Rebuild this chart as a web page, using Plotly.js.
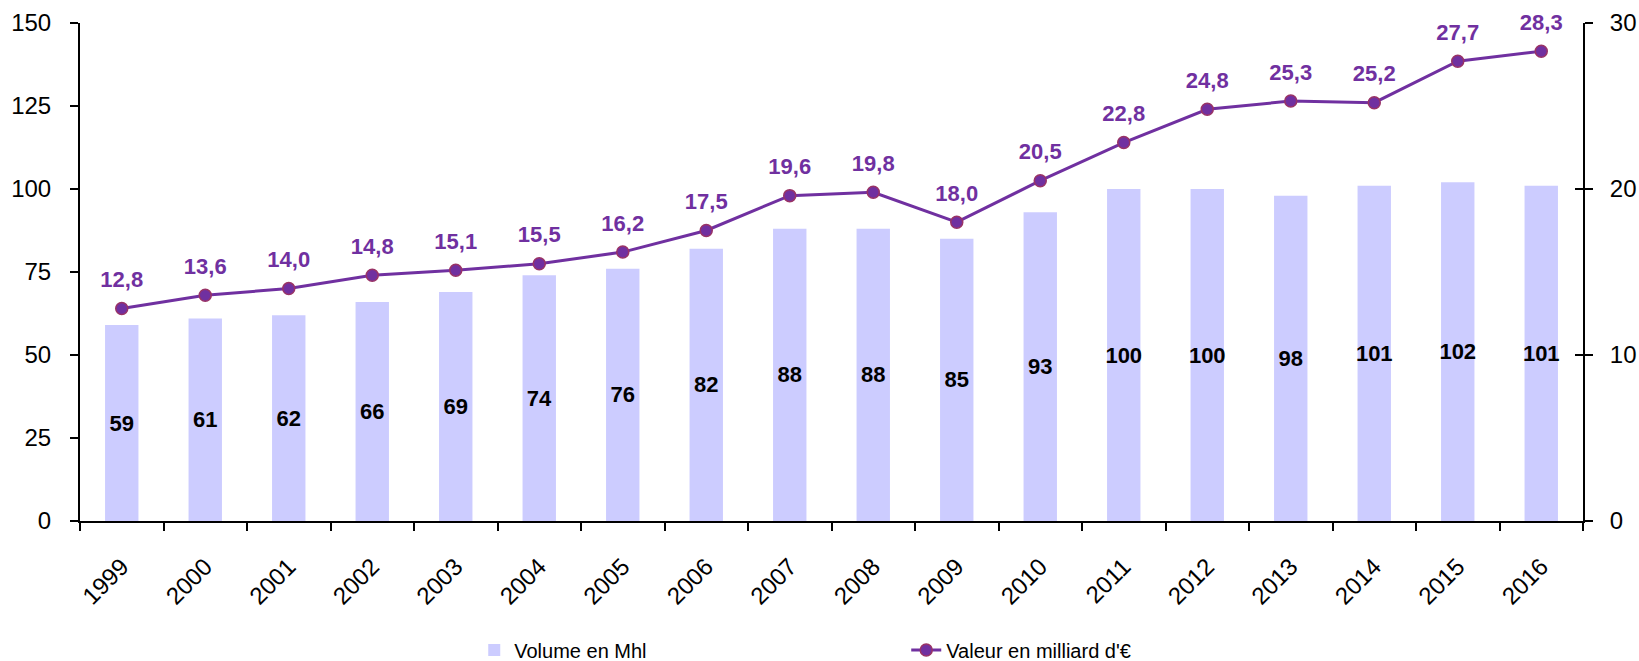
<!DOCTYPE html>
<html>
<head>
<meta charset="utf-8">
<script src="https://cdn.plot.ly/plotly-3.0.1.min.js"></script>
<style>html,body{margin:0;padding:0;background:#fff;}#chart{width:1639px;height:661px;}</style>
</head>
<body>
<div id="chart"></div>
<script>
const years = ['1999','2000','2001','2002','2003','2004','2005','2006','2007','2008','2009','2010','2011','2012','2013','2014','2015','2016'];
const volumeMhl = [59,61,62,66,69,74,76,82,88,88,85,93,100,100,98,101,102,101];
const valeurMdEur = [12.8,13.6,14.0,14.8,15.1,15.5,16.2,17.5,19.6,19.8,18.0,20.5,22.8,24.8,25.3,25.2,27.7,28.3];
const leftTicks = [0,25,50,75,100,125,150];
const rightTicks = [0,10,20,30];

const FONT = 'Liberation Sans, Arial, sans-serif';
const PURPLE = '#7030A0';

const valeurText = valeurMdEur.map(v => v.toFixed(1).replace('.', ','));

const traces = [
  {
    type: 'bar', name: 'Volume en Mhl', x: years, y: volumeMhl,
    marker: {color: '#CCCCFF'}, width: 0.4,
    text: volumeMhl.map(String), textposition: 'inside', insidetextanchor: 'middle',
    textangle: 0, constraintext: 'none',
    insidetextfont: {family: FONT, size: 22, color: '#000', weight: 'bold'},
    hoverinfo: 'skip'
  },
  {
    type: 'scatter', mode: 'lines+markers', name: "Valeur en milliard d'€",
    x: years, y: valeurMdEur, yaxis: 'y2',
    line: {color: PURPLE, width: 3},
    marker: {color: PURPLE, size: 12, line: {color: '#993366', width: 1.5}},
    cliponaxis: false, hoverinfo: 'skip'
  },
  {
    type: 'scatter', mode: 'markers+text', showlegend: false,
    x: years, y: valeurMdEur, yaxis: 'y2',
    marker: {color: 'rgba(0,0,0,0)', size: 24},
    text: valeurText, textposition: 'top center',
    textfont: {family: FONT, size: 22, color: PURPLE, weight: 'bold'},
    cliponaxis: false, hoverinfo: 'skip'
  },
  {
    type: 'scatter', mode: 'markers', showlegend: false, x: [], y: [], yaxis: 'y3', hoverinfo: 'skip'
  }
];

const layout = {
  width: 1639, height: 661,
  margin: {l: 80, r: 56, t: 23, b: 140, autoexpand: false},
  paper_bgcolor: '#fff', plot_bgcolor: '#fff',
  font: {family: FONT, size: 24, color: '#000'},
  showlegend: true,
  xaxis: {
    type: 'category', range: [-0.5, 17.5], autorange: false,
    tickangle: -45, tickson: 'boundaries',
    ticks: 'outside', ticklen: 8, tickwidth: 2, tickcolor: '#000',
    showline: true, linecolor: '#000', linewidth: 2,
    showgrid: false, zeroline: false, ticklabelstandoff: 20,
    tickfont: {family: FONT, size: 24, color: '#000'}
  },
  yaxis: {
    range: [0, 150], autorange: false, tickvals: leftTicks, ticks: 'outside', ticklen: 8, tickwidth: 2,
    tickcolor: '#000', showline: true, linecolor: '#000', linewidth: 2,
    showgrid: false, zeroline: false, ticklabelstandoff: 14,
    tickfont: {family: FONT, size: 24, color: '#000'}
  },
  yaxis2: {
    range: [0, 30], autorange: false, tickvals: rightTicks, overlaying: 'y', side: 'right',
    ticks: 'outside', ticklen: 8, tickwidth: 2, tickcolor: '#000',
    showline: true, linecolor: '#000', linewidth: 2,
    showgrid: false, zeroline: false, ticklabelstandoff: 12,
    tickfont: {family: FONT, size: 24, color: '#000'}
  },
  yaxis3: {
    range: [0, 30], autorange: false, tickvals: rightTicks, overlaying: 'y', side: 'right', anchor: 'x',
    ticks: 'inside', ticklen: 8, tickwidth: 2, tickcolor: '#000',
    showline: false, showgrid: false, zeroline: false, showticklabels: false
  },
  legend: {
    orientation: 'h', x: 0.2623, xanchor: 'left', y: -0.259, yanchor: 'middle',
    entrywidth: 387, font: {family: FONT, size: 20, color: '#000'},
    bgcolor: 'rgba(0,0,0,0)', traceorder: 'normal'
  }
};

Plotly.newPlot('chart', traces, layout, {displayModeBar: false, staticPlot: true});
</script>
</body>
</html>
